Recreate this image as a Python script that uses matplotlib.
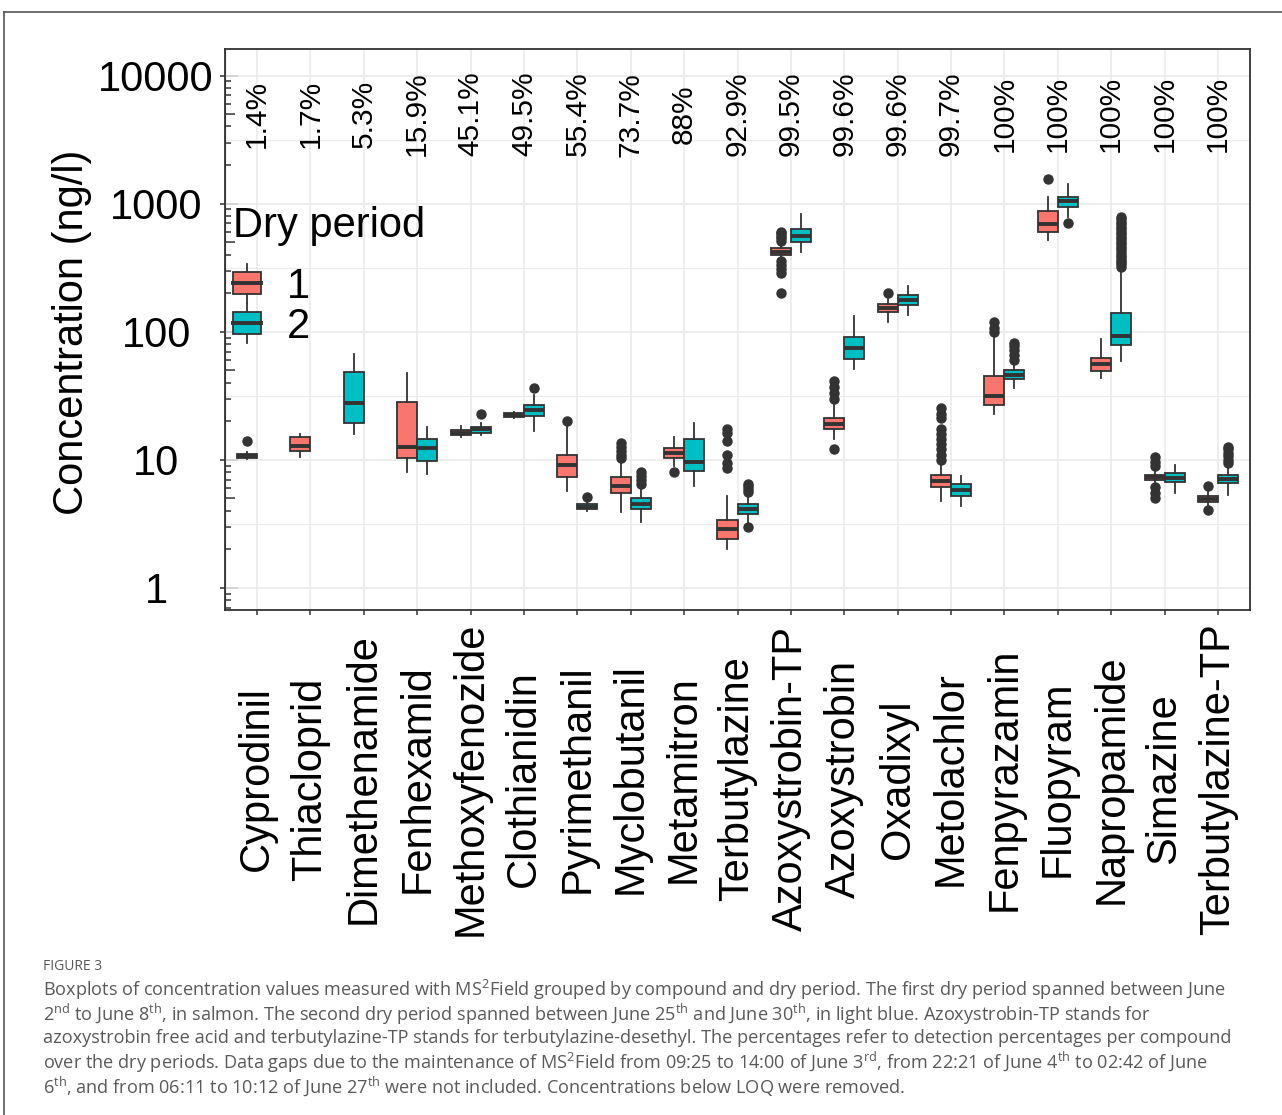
import matplotlib
matplotlib.use('Agg')
import matplotlib.pyplot as plt
from matplotlib.patches import Rectangle, Patch
from matplotlib.lines import Line2D
from matplotlib.legend_handler import HandlerBase
from matplotlib.ticker import FixedLocator, NullFormatter

plt.rcParams['font.family'] = ['Liberation Sans', 'DejaVu Sans']
plt.rcParams['mathtext.fontset'] = 'custom'
plt.rcParams['mathtext.rm'] = 'Open Sans'

compounds = ['Cyprodinil', 'Thiacloprid', 'Dimethenamide', 'Fenhexamid', 'Methoxyfenozide',
             'Clothianidin', 'Pyrimethanil', 'Myclobutanil', 'Metamitron', 'Terbutylazine',
             'Azoxystrobin-TP', 'Azoxystrobin', 'Oxadixyl', 'Metolachlor', 'Fenpyrazamin',
             'Fluopyram', 'Napropamide', 'Simazine', 'Terbutylazine-TP']
detect_pct = ['1.4%', '1.7%', '5.3%', '15.9%', '45.1%', '49.5%', '55.4%', '73.7%', '88%', '92.9%',
              '99.5%', '99.6%', '99.6%', '99.7%', '100%', '100%', '100%', '100%', '100%']

# dry period 1 (None = no data)
p1_lo = [10.2, 10.6, None, 8.1, 15.0, 21.2, 5.7, 3.9, 9.0, 2.0, 371, 14.5, 119, 4.8, 22.7, 516, 43.2, 6.5, 4.34]
p1_q1 = [10.4, 11.8, None, 10.4, 15.6, 21.6, 7.4, 5.5, 10.4, 2.4, 397, 17.3, 143, 6.1, 26.6, 600, 49.5, 6.9, 4.66]
p1_med = [10.8, 12.8, None, 12.6, 16.3, 22.4, 9.1, 6.3, 11.4, 2.9, 423, 19.1, 153, 6.8, 31.4, 699, 55.7, 7.3, 4.92]
p1_q3 = [11.2, 15.2, None, 28.5, 17.1, 23.2, 10.9, 7.3, 12.4, 3.4, 447, 21.2, 164, 7.6, 45.3, 877, 62.5, 7.6, 5.24]
p1_hi = [11.6, 15.8, None, 47.5, 18.5, 23.6, 18.5, 10.0, 15.0, 5.2, 489, 28.0, 183, 9.6, 93, 1117, 87.1, 8.4, 5.71]
p1_out = [[14.0], [], [], [], [], [], [20.0],
          [10.3, 11.0, 11.8, 12.6, 13.5],
          [8.1],
          [8.6, 9.5, 11.0, 14.0, 16.1, 17.3],
          [202, 290, 310, 330, 355, 510, 535, 560, 585, 600],
          [12.2, 30, 33, 37, 41],
          [199],
          [10.0, 11.0, 12.2, 13.4, 14.5, 15.8, 17.3, 21.2, 22.7, 25.2],
          [100, 107, 119],
          [1545], [],
          [5.0, 5.5, 6.1, 9.0, 9.7, 10.6],
          [4.06, 6.21]]

# dry period 2
p2_lo = [None, None, 15.8, 7.8, 15.6, 16.9, 4.0, 3.3, 6.2, 3.25, 417, 51.3, 135, 4.34, 36.3, 791, 58.8, 5.53, 5.35]
p2_q1 = [None, None, 19.4, 9.8, 16.1, 21.8, 4.14, 4.14, 8.25, 3.78, 506, 61.7, 162, 5.24, 42.9, 940, 78.5, 6.70, 6.56]
p2_med = [None, None, 27.9, 12.4, 17.5, 24.3, 4.3, 4.56, 9.6, 4.14, 561, 74.3, 177, 5.84, 46.2, 1042, 93.3, 7.28, 7.03]
p2_q3 = [None, None, 48.5, 14.5, 18.2, 27.0, 4.5, 5.06, 14.5, 4.5, 630, 90.2, 195, 6.43, 50.2, 1132, 139, 7.91, 7.64]
p2_hi = [None, None, 67.5, 18.1, 19.4, 32.1, 4.7, 6.2, 19.4, 5.3, 836, 132, 229, 7.53, 56, 1422, 312, 9.08, 9.0]
p2_out = [[], [], [], [], [22.7], [36.3], [5.16],
          [6.5, 7.0, 7.5, 8.0],
          [],
          [3.0, 5.6, 5.9, 6.2, 6.5],
          [], [], [], [],
          [60, 66, 72, 78, 81],
          [703],
          [320, 335, 350, 365, 380, 400, 420, 440, 460, 480, 500, 525, 550, 575, 600,
           630, 660, 690, 720, 760, 790],
          [],
          [9.4, 10.0, 10.7, 11.4, 12.1, 12.6]]

colors = ['#F8766D', '#00BFC4']
edge = '#333333'

W, H = 1282, 1115
fig = plt.figure(figsize=(W / 100, H / 100), dpi=100)
ax = fig.add_axes([225 / W, 1 - 610 / H, 1025 / W, 561 / H])
ax.set_yscale('log')
ax.set_xlim(-0.6, len(compounds) - 0.4)
ax.set_ylim(10 ** -0.172, 10 ** 4.207)

periods = [(p1_lo, p1_q1, p1_med, p1_q3, p1_hi, p1_out),
           (p2_lo, p2_q1, p2_med, p2_q3, p2_hi, p2_out)]
bw = 0.375
for k, (lo, q1, med, q3, hi, out) in enumerate(periods):
    stats = []
    pos = []
    for i in range(len(compounds)):
        if med[i] is None:
            continue
        stats.append(dict(whislo=lo[i], q1=q1[i], med=med[i], q3=q3[i], whishi=hi[i], fliers=out[i]))
        single = p1_med[i] is None or p2_med[i] is None
        pos.append(i - bw / 2 if (k == 0 or single) else i + bw / 2)
    ax.bxp(stats, positions=pos, widths=bw, patch_artist=True, showcaps=False,
           manage_ticks=False,
           boxprops=dict(facecolor=colors[k], edgecolor=edge, linewidth=1.3),
           medianprops=dict(color=edge, linewidth=2.8, solid_capstyle='butt'),
           whiskerprops=dict(color=edge, linewidth=1.3),
           flierprops=dict(marker='o', markerfacecolor=edge, markeredgecolor=edge, markersize=6.5))

# detection percentages
for i, p in enumerate(detect_pct):
    ax.text(i, 5000, p, rotation=90, ha='center', va='center', fontsize=21.5)

# grid
decades = [1, 10, 100, 1000, 10000]
ax.set_yticks(decades, labels=['1', '10', '100', '1000', '10000'])
ax.yaxis.set_minor_locator(FixedLocator([m * 10 ** e for e in range(-1, 5) for m in (2, 3, 4, 6, 7, 8, 9)]))
ax.yaxis.set_minor_formatter(NullFormatter())
ax.set_xticks(range(len(compounds)), labels=compounds)
ax.grid(True, which='major', color='#EBEBEB', linewidth=1.2, zorder=0)
for e in range(-1, 5):
    ax.axhline(10 ** (e + 0.5), color='#EBEBEB', linewidth=0.9, zorder=0)
ax.set_axisbelow(True)

ax.tick_params(axis='both', which='major', direction='out', length=3.6, width=1.1, color=edge,
               labelsize=30, labelcolor='black')
ax.tick_params(axis='y', which='minor', direction='in', length=4.5, width=1.1, color=edge)
ax.tick_params(axis='y', pad=46)
ax.tick_params(axis='x', pad=118)
for lab in ax.get_yticklabels():
    lab.set_ha('center')
for lab in ax.get_xticklabels():
    lab.set_rotation(90)
    lab.set_va('center')
    lab.set_ha('center')

# log ticks (long at decades, mid at 5s)
sec = ax.secondary_yaxis('left')
sec.set_yticks(decades, labels=[])
sec.yaxis.set_minor_locator(FixedLocator([5 * 10 ** e for e in range(-1, 4)]))
sec.yaxis.set_minor_formatter(NullFormatter())
sec.tick_params(which='major', direction='in', length=9.5, width=1.1, color=edge)
sec.tick_params(which='minor', direction='in', length=7, width=1.1, color=edge)
sec.spines['left'].set_color(edge)

for s in ax.spines.values():
    s.set_color(edge)
    s.set_linewidth(1.3)

fig.text(72 / W, 1 - 332 / H, 'Concentration (ng/l)', rotation=90, ha='center', va='center', fontsize=30)


# legend with boxplot keys
class BoxHandler(HandlerBase):
    def create_artists(self, legend, orig_handle, xdescent, ydescent, width, height, fontsize, trans):
        x0, y0 = -xdescent, -ydescent
        wl = Line2D([x0 + width / 2] * 2, [y0 - 0.35 * height, y0 + 1.35 * height],
                    color=edge, linewidth=1.3, transform=trans)
        box = Rectangle((x0, y0), width, height, facecolor=orig_handle.get_facecolor(),
                        edgecolor=edge, linewidth=1.3, transform=trans)
        md = Line2D([x0, x0 + width], [y0 + height / 2] * 2, color=edge, linewidth=2.8, transform=trans)
        return [wl, box, md]


handles = [Patch(facecolor=c) for c in colors]
leg = ax.legend(handles, ['1', '2'], title='Dry period', loc='upper left',
                bbox_to_anchor=(233 / W, 1 - 206 / H), bbox_transform=fig.transFigure,
                handler_map={Patch: BoxHandler()}, frameon=False, fontsize=30, title_fontsize=30,
                alignment='left', borderpad=0, handlelength=0.68, handleheight=0.47,
                handletextpad=0.62, labelspacing=0.0, borderaxespad=0)
leg._legend_box.sep = 15
leg.set_zorder(5)

# caption
cap_kw = dict(fontsize=13.1, color='#595959', family=['Open Sans', 'DejaVu Sans'], ha='left', va='center')
fig.text(43 / W, 1 - 966 / H, 'FIGURE 3', fontsize=10, color='#595959', family=['Open Sans', 'DejaVu Sans'],
         ha='left', va='center')
caption = [
    r'Boxplots of concentration values measured with MS$^{\mathrm{2}}$Field grouped by compound and dry period. The first dry period spanned between June',
    r'2$^{\mathrm{nd}}$ to June 8$^{\mathrm{th}}$, in salmon. The second dry period spanned between June 25$^{\mathrm{th}}$ and June 30$^{\mathrm{th}}$, in light blue. Azoxystrobin-TP stands for',
    r'azoxystrobin free acid and terbutylazine-TP stands for terbutylazine-desethyl. The percentages refer to detection percentages per compound',
    r'over the dry periods. Data gaps due to the maintenance of MS$^{\mathrm{2}}$Field from 09:25 to 14:00 of June 3$^{\mathrm{rd}}$, from 22:21 of June 4$^{\mathrm{th}}$ to 02:42 of June',
    r'6$^{\mathrm{th}}$, and from 06:11 to 10:12 of June 27$^{\mathrm{th}}$ were not included. Concentrations below LOQ were removed.',
]
for j, line in enumerate(caption):
    fig.text(43 / W, 1 - (990 + 24 * j) / H, line, **cap_kw)

# outer frame (top and left edges)
fig.add_artist(Line2D([4 / W, 1], [1 - 12 / H] * 2, color='#555555', linewidth=1.2, transform=fig.transFigure))
fig.add_artist(Line2D([4 / W] * 2, [0, 1 - 12 / H], color='#555555', linewidth=1.2, transform=fig.transFigure))

fig.savefig('out.png', dpi=100)
